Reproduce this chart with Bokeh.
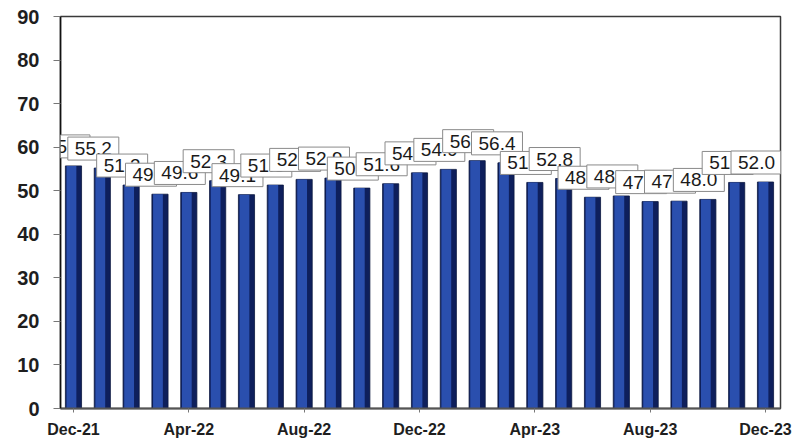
from bokeh.plotting import figure
from bokeh.models import FixedTicker, Label, ColumnDataSource
from bokeh.embed import file_html
from bokeh.resources import INLINE

# Monthly index readings, Dec-21 .. Dec-23
months = ["Dec-21", "Jan-22", "Feb-22", "Mar-22", "Apr-22", "May-22", "Jun-22",
          "Jul-22", "Aug-22", "Sep-22", "Oct-22", "Nov-22", "Dec-22", "Jan-23",
          "Feb-23", "Mar-23", "Apr-23", "May-23", "Jun-23", "Jul-23", "Aug-23",
          "Sep-23", "Oct-23", "Nov-23", "Dec-23"]
values = [55.7, 55.2, 51.3, 49.2, 49.6, 52.3, 49.1, 51.3, 52.6, 52.9, 50.6, 51.6,
          54.1, 54.9, 56.9, 56.4, 51.9, 52.8, 48.5, 48.8, 47.5, 47.6, 48.0, 51.9, 52.0]
tick_every = 4
y_ticks = list(range(0, 91, 10))

idx = list(range(len(months)))
src = ColumnDataSource(data=dict(x=idx, v=values, x_face=[i - 0.07 for i in idx]))

p = figure(width=793, height=442, output_backend="svg", toolbar_location=None,
           x_range=(-0.45, len(months) - 0.48), y_range=(0, 90),
           min_border_left=60, min_border_right=13, min_border_top=16,
           min_border_bottom=34)
p.background_fill_color = "white"
p.border_fill_color = "white"
p.outline_line_color = "#3a3a3a"
p.outline_line_width = 1.5
p.xgrid.visible = False
p.ygrid.visible = False

# column body: dark side with a brighter front face
p.vbar(x="x", top="v", width=0.56, source=src, fill_color="#0e1f5c",
       line_color="#0a163f", line_width=0.8)
p.vbar(x="x_face", top="v", width=0.34, source=src, fill_color="#2a4fae",
       line_color=None)

# axes
p.yaxis.ticker = FixedTicker(ticks=y_ticks)
p.yaxis.major_label_text_font = "Liberation Sans"
p.yaxis.major_label_text_font_style = "bold"
p.yaxis.major_label_text_font_size = "20px"
p.yaxis.major_label_text_color = "#1e1e1e"
p.yaxis.axis_line_color = "#111111"
p.yaxis.axis_line_width = 1.5
p.yaxis.major_tick_out = 7
p.yaxis.major_tick_in = 0
p.yaxis.major_tick_line_color = "#777777"
p.yaxis.minor_tick_line_color = None
p.yaxis.major_label_standoff = 14

x_ticks = idx[::tick_every]
p.xaxis.ticker = FixedTicker(ticks=x_ticks)
p.xaxis.major_label_overrides = {i: months[i] for i in x_ticks}
p.xaxis.major_label_text_font = "Liberation Sans"
p.xaxis.major_label_text_font_style = "bold"
p.xaxis.major_label_text_font_size = "16px"
p.xaxis.major_label_text_color = "#1e1e1e"
p.xaxis.axis_line_color = "#555555"
p.xaxis.axis_line_width = 2
p.xaxis.major_tick_out = 4
p.xaxis.major_tick_in = 0
p.xaxis.major_tick_line_color = "#777777"
p.xaxis.minor_tick_line_color = None
p.xaxis.major_label_standoff = 8

# boxed value labels above each column
for i, v in zip(idx, values):
    p.add_layout(Label(x=i, y=v, text=f"{v:.1f}", text_align="center",
                       text_baseline="bottom", x_offset=-9, y_offset=8,
                       text_font="Liberation Sans", text_font_size="19px",
                       text_color="#1a1a1a",
                       padding=dict(left=7, right=7, top=5, bottom=5),
                       background_fill_color="white",
                       border_line_color="#8a8a8a", border_line_width=1))

open("out.html", "w").write(file_html(p, INLINE))
